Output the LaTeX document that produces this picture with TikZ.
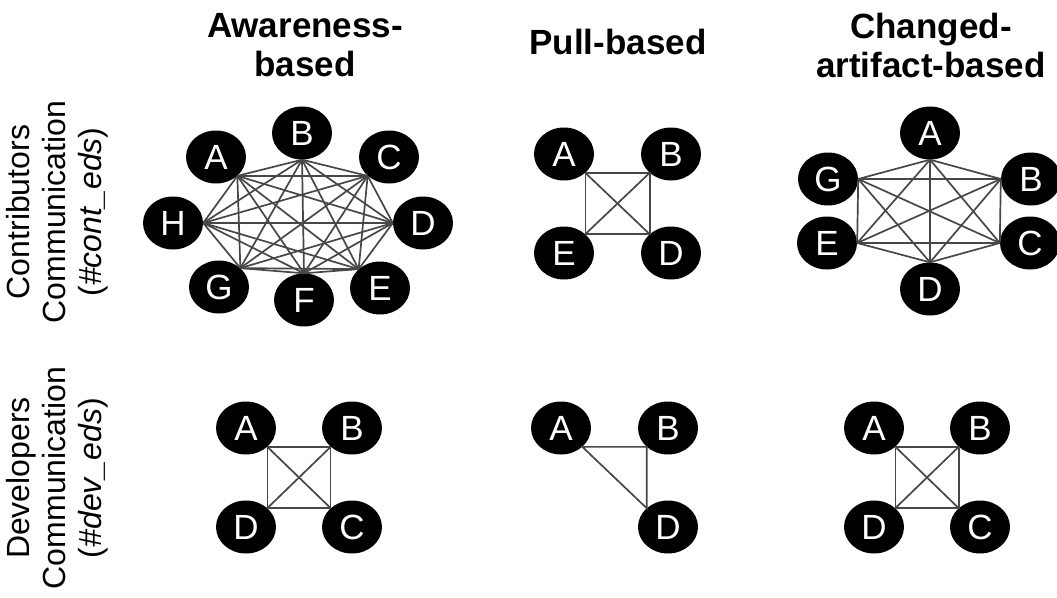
\documentclass[tikz,border=0pt]{standalone}
\usepackage{fontspec}
\setmainfont{Liberation Sans}
\usetikzlibrary{shapes.geometric}

\tikzset{
  vertex/.style={ellipse, fill=black, draw=none, minimum width=60pt, minimum height=53pt,
    inner sep=0pt, text=white, font=\fontsize{35}{36}\selectfont},
  link/.style={draw=black!72, line width=1.7pt},
  header/.style={align=center, font=\bfseries\fontsize{35}{39}\selectfont},
  rowlabel/.style={rotate=90, align=center, font=\fontsize{32}{36}\selectfont}
}

\begin{document}
\begin{tikzpicture}[x=1pt, y=-1pt]
\useasboundingbox (0,0) rectangle (1057,597);

% column headers
\node[header] (h1) at (305,45) {Awareness-\\based};
\node[header] (h2) at (618,42) {Pull-based};
\node[header] (h3) at (931,45) {Changed-\\artifact-based};

% row labels
\node[rowlabel] (r1) at (57,212) {Contributors\\Communication\\(\textit{\#cont\_eds})};
\node[rowlabel] (r2) at (57,478) {Developers\\Communication\\(\textit{\#dev\_eds})};

% ---- contributors, awareness-based: complete graph on eight people
\node[vertex] (a1A) at (216,157) {A};
\node[vertex] (a1B) at (302,133) {B};
\node[vertex] (a1C) at (389,157) {C};
\node[vertex] (a1D) at (423,223) {D};
\node[vertex] (a1E) at (380,288) {E};
\node[vertex] (a1F) at (304,300) {F};
\node[vertex] (a1G) at (219,287) {G};
\node[vertex] (a1H) at (173,223) {H};
\coordinate (pA) at (a1A.south east);
\coordinate (pB) at (a1B.south);
\coordinate (pC) at (a1C.south west);
\coordinate (pD) at (a1D.west);
\coordinate (pE) at (a1E.north west);
\coordinate (pF) at (a1F.north);
\coordinate (pG) at (a1G.north east);
\coordinate (pH) at (a1H.east);
\foreach \u/\vs in {A/{B,C,D,E,F,G,H}, B/{C,D,E,F,G,H}, C/{D,E,F,G,H},
                    D/{E,F,G,H}, E/{F,G,H}, F/{G,H}, G/{H}}
  \foreach \v in \vs
    \draw[link] (p\u) -- (p\v);

% ---- contributors, pull-based
\node[vertex] (p1A) at (564,154) {A};
\node[vertex] (p1B) at (671,154) {B};
\node[vertex] (p1E) at (564,253) {E};
\node[vertex] (p1D) at (671,253) {D};
\draw[link] (p1A.south east) -- (p1B.south west) -- (p1D.north west)
            -- (p1E.north east) -- cycle;
\draw[link] (p1A.south east) -- (p1D.north west);
\draw[link] (p1B.south west) -- (p1E.north east);

% ---- contributors, changed-artifact-based: complete graph on six people
\node[vertex] (c1A) at (930,133) {A};
\node[vertex] (c1G) at (828,179) {G};
\node[vertex] (c1B) at (1031,179) {B};
\node[vertex] (c1E) at (827,243) {E};
\node[vertex] (c1C) at (1030,243) {C};
\node[vertex] (c1D) at (930,289) {D};
\coordinate (qA) at (c1A.south);
\coordinate (qG) at (c1G.east);
\coordinate (qB) at (c1B.west);
\coordinate (qE) at (c1E.east);
\coordinate (qC) at (c1C.west);
\coordinate (qD) at (c1D.north);
\foreach \u/\vs in {A/{G,B,E,C,D}, G/{B,E,C,D}, B/{E,C,D}, E/{C,D}, C/{D}}
  \foreach \v in \vs
    \draw[link] (q\u) -- (q\v);

% ---- developers, awareness-based
\node[vertex] (a2A) at (246,428) {A};
\node[vertex] (a2B) at (352,428) {B};
\node[vertex] (a2D) at (246,527) {D};
\node[vertex] (a2C) at (352,527) {C};
\draw[link] (a2A.south east) -- (a2B.south west) -- (a2C.north west)
            -- (a2D.north east) -- cycle;
\draw[link] (a2A.south east) -- (a2C.north west);
\draw[link] (a2B.south west) -- (a2D.north east);

% ---- developers, pull-based
\node[vertex] (p2A) at (561,428) {A};
\node[vertex] (p2B) at (668,428) {B};
\node[vertex] (p2D) at (668,527) {D};
\draw[link] (p2A.south east) -- (p2B.south west) -- (p2D.north west) -- cycle;

% ---- developers, changed-artifact-based
\node[vertex] (c2A) at (874,428) {A};
\node[vertex] (c2B) at (980,428) {B};
\node[vertex] (c2D) at (874,527) {D};
\node[vertex] (c2C) at (980,527) {C};
\draw[link] (c2A.south east) -- (c2B.south west) -- (c2C.north west)
            -- (c2D.north east) -- cycle;
\draw[link] (c2A.south east) -- (c2C.north west);
\draw[link] (c2B.south west) -- (c2D.north east);
\end{tikzpicture}
\end{document}
